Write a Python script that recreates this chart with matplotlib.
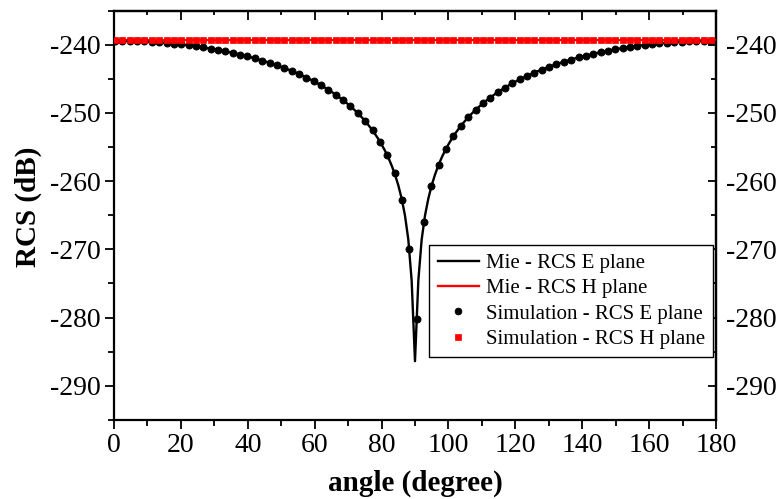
import matplotlib
matplotlib.use("Agg")
import matplotlib.pyplot as plt
from matplotlib.ticker import MultipleLocator

plt.rcParams['font.family'] = ['Liberation Serif', 'DejaVu Serif']
plt.rcParams['axes.unicode_minus'] = False

# ---------------- data ----------------
mie_angle = list(range(0, 181))
mie_e = [
    -239.40, -239.40, -239.41, -239.41, -239.42, -239.43, -239.45, -239.47, -239.49, -239.51,
    -239.53, -239.56, -239.59, -239.63, -239.66, -239.70, -239.74, -239.79, -239.84, -239.89,
    -239.94, -240.00, -240.06, -240.12, -240.19, -240.25, -240.33, -240.40, -240.48, -240.56,
    -240.65, -240.74, -240.83, -240.93, -241.03, -241.13, -241.24, -241.35, -241.47, -241.59,
    -241.72, -241.84, -241.98, -242.12, -242.26, -242.41, -242.57, -242.72, -242.89, -243.06,
    -243.24, -243.42, -243.61, -243.81, -244.02, -244.23, -244.45, -244.68, -244.92, -245.16,
    -245.42, -245.69, -245.97, -246.26, -246.56, -246.88, -247.21, -247.56, -247.93, -248.31,
    -248.72, -249.15, -249.60, -250.08, -250.59, -251.14, -251.73, -252.36, -253.04, -253.79,
    -254.61, -255.51, -256.53, -257.68, -259.02, -260.59, -262.53, -265.02, -268.55, -274.56,
    -286.40,
    -274.56, -268.55, -265.02, -262.53, -260.59, -259.02, -257.68, -256.53, -255.51, -254.61,
    -253.79, -253.04, -252.36, -251.73, -251.14, -250.59, -250.08, -249.60, -249.15, -248.72,
    -248.31, -247.93, -247.56, -247.21, -246.88, -246.56, -246.26, -245.97, -245.69, -245.42,
    -245.16, -244.92, -244.68, -244.45, -244.23, -244.02, -243.81, -243.61, -243.42, -243.24,
    -243.06, -242.89, -242.72, -242.57, -242.41, -242.26, -242.12, -241.98, -241.84, -241.72,
    -241.59, -241.47, -241.35, -241.24, -241.13, -241.03, -240.93, -240.83, -240.74, -240.65,
    -240.56, -240.48, -240.40, -240.33, -240.25, -240.19, -240.12, -240.06, -240.00, -239.94,
    -239.89, -239.84, -239.79, -239.74, -239.70, -239.66, -239.63, -239.59, -239.56, -239.53,
    -239.51, -239.49, -239.47, -239.45, -239.43, -239.42, -239.41, -239.41, -239.40, -239.40,
]
mie_h_angle = [0, 180]
mie_h = [-239.3, -239.3]

sim_angle = [
    0.3, 2.5, 4.7, 6.9, 9.1, 11.3, 13.5, 15.7, 17.9, 20.1,
    22.3, 24.5, 26.7, 28.9, 31.1, 33.3, 35.5, 37.7, 39.9, 42.1,
    44.3, 46.5, 48.7, 50.9, 53.1, 55.3, 57.5, 59.7, 61.9, 64.1,
    66.3, 68.5, 70.7, 72.9, 75.1, 77.3, 79.5, 81.7, 83.9, 86.1,
    88.3, 90.5, 92.7, 94.9, 97.1, 99.3, 101.5, 103.7, 105.9, 108.1,
    110.3, 112.5, 114.7, 116.9, 119.1, 121.3, 123.5, 125.7, 127.9, 130.1,
    132.3, 134.5, 136.7, 138.9, 141.1, 143.3, 145.5, 147.7, 149.9, 152.1,
    154.3, 156.5, 158.7, 160.9, 163.1, 165.3, 167.5, 169.7, 171.9, 174.1,
    176.3, 178.5,
]
sim_e = [
    -239.40, -239.41, -239.43, -239.46, -239.51, -239.57, -239.64, -239.73, -239.83, -239.95,
    -240.08, -240.22, -240.38, -240.55, -240.75, -240.96, -241.19, -241.43, -241.70, -241.99,
    -242.31, -242.64, -243.01, -243.40, -243.83, -244.29, -244.80, -245.34, -245.94, -246.60,
    -247.32, -248.12, -249.02, -250.03, -251.20, -252.56, -254.19, -256.22, -258.87, -262.75,
    -269.95, -280.20, -265.94, -260.77, -257.56, -255.23, -253.41, -251.91, -250.65, -249.55,
    -248.59, -247.74, -246.98, -246.29, -245.66, -245.09, -244.56, -244.08, -243.63, -243.22,
    -242.84, -242.49, -242.16, -241.86, -241.58, -241.32, -241.08, -240.86, -240.66, -240.47,
    -240.31, -240.15, -240.01, -239.89, -239.78, -239.69, -239.61, -239.54, -239.49, -239.45,
    -239.42, -239.40,
]
sim_h = [
    -239.3, -239.3, -239.3, -239.3, -239.3, -239.3, -239.3, -239.3, -239.3, -239.3,
    -239.3, -239.3, -239.3, -239.3, -239.3, -239.3, -239.3, -239.3, -239.3, -239.3,
    -239.3, -239.3, -239.3, -239.3, -239.3, -239.3, -239.3, -239.3, -239.3, -239.3,
    -239.3, -239.3, -239.3, -239.3, -239.3, -239.3, -239.3, -239.3, -239.3, -239.3,
    -239.3, -239.3, -239.3, -239.3, -239.3, -239.3, -239.3, -239.3, -239.3, -239.3,
    -239.3, -239.3, -239.3, -239.3, -239.3, -239.3, -239.3, -239.3, -239.3, -239.3,
    -239.3, -239.3, -239.3, -239.3, -239.3, -239.3, -239.3, -239.3, -239.3, -239.3,
    -239.3, -239.3, -239.3, -239.3, -239.3, -239.3, -239.3, -239.3, -239.3, -239.3,
    -239.3, -239.3,
]
x_ticks = [0, 20, 40, 60, 80, 100, 120, 140, 160, 180]
y_ticks = [-240, -250, -260, -270, -280, -290]

# ---------------- figure ----------------
fig = plt.figure(figsize=(7.83, 4.99), dpi=100)
ax = fig.add_axes([0.1456, 0.1587, 0.7688, 0.8199])

ax.plot(mie_angle, mie_e, color='black', lw=1.7, label='Mie - RCS E plane', zorder=2)
ax.plot(mie_h_angle, mie_h, color='#ff0000', lw=1.7, label='Mie - RCS H plane', zorder=3)
ax.plot(sim_angle, sim_e, ls='none', marker='o', ms=5.1, mew=0.6, color='black',
        label='Simulation - RCS E plane', zorder=4)
ax.plot(sim_angle, sim_h, ls='none', marker='s', ms=4.9, mew=0.5, color='#ff0000',
        mec='#ff0000', label='Simulation - RCS H plane', zorder=5)

ax.set_xlim(0, 180)
ax.set_ylim(-295, -235)
ax.set_xticks(x_ticks)
ax.set_yticks(y_ticks)
ax.xaxis.set_minor_locator(MultipleLocator(10))
ax.yaxis.set_minor_locator(MultipleLocator(5))
ax.tick_params(axis='both', which='major', direction='out', length=6.7, width=1.3,
               labelsize=20, pad=3)
ax.tick_params(axis='both', which='minor', direction='out', length=4.3, width=1.3)
for s in ax.spines.values():
    s.set_linewidth(1.6)

secx = ax.secondary_xaxis('top')
secx.set_xticks(x_ticks)
secx.xaxis.set_minor_locator(MultipleLocator(10))
secx.tick_params(axis='x', which='major', direction='in', length=6.3, width=1.3, labeltop=False)
secx.tick_params(axis='x', which='minor', direction='in', length=3.2, width=1.3)
secx.spines['top'].set_linewidth(1.6)

secy = ax.secondary_yaxis('right')
secy.set_yticks(y_ticks)
secy.yaxis.set_minor_locator(MultipleLocator(5))
secy.tick_params(axis='y', which='major', direction='in', length=6, width=1.3,
                 labelsize=20, pad=7)
secy.tick_params(axis='y', which='minor', direction='in', length=3.3, width=1.3)
secy.spines['right'].set_linewidth(1.6)

ax.set_xlabel('angle (degree)', fontsize=21, fontweight='bold')
ax.set_ylabel('RCS (dB)', fontsize=21, fontweight='bold')
ax.xaxis.set_label_coords(0.5, -0.122)
ax.yaxis.set_label_coords(-0.12, 0.52)

leg = ax.legend(loc='lower right', bbox_to_anchor=(0.995, 0.153), fontsize=15,
                frameon=True, fancybox=False, edgecolor='black', framealpha=1,
                handlelength=2.0, handletextpad=0.3, borderpad=0.4, labelspacing=0.27,
                borderaxespad=0.0, markerscale=0.95)
leg.get_frame().set_linewidth(1.0)

fig.savefig('out.png', dpi=100)
